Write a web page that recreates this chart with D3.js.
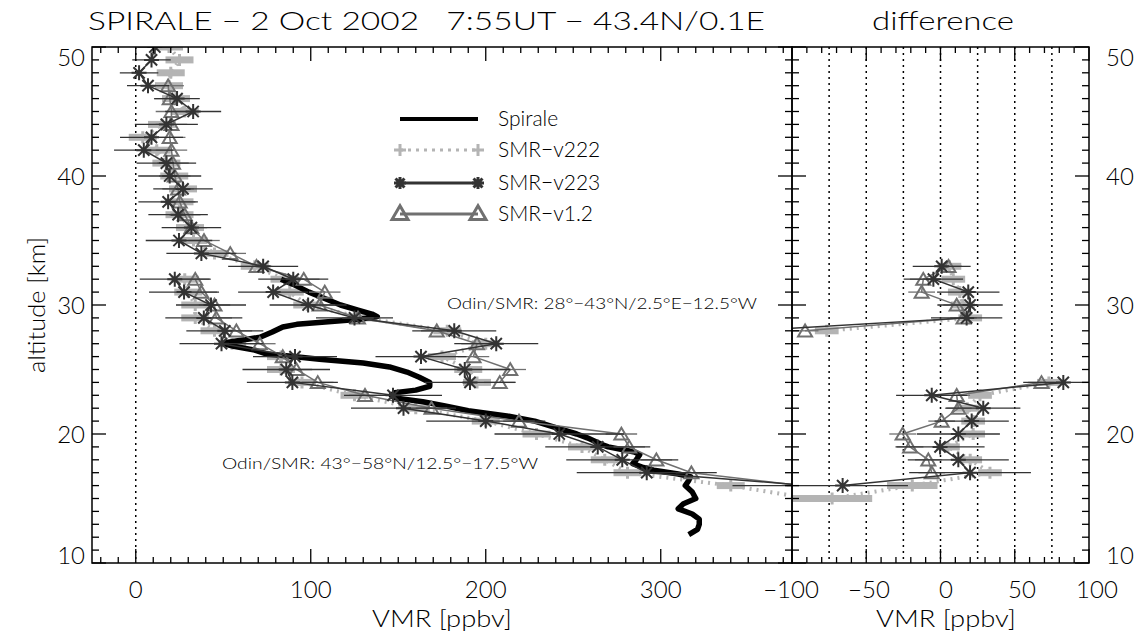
<!DOCTYPE html>
<html><head><meta charset="utf-8">
<script src="https://cdn.jsdelivr.net/npm/d3@7"></script>
<style>body{margin:0;background:#fff} text{font-family:Lato,"Liberation Sans",Arial,sans-serif;font-weight:300;fill:#000}</style>
</head><body><svg id="c" width="1141" height="636"></svg>
<script>
// ---------------- DATA ----------------
// Spirale profile
const spiraleAlt = [32.0,31.6,31.0,30.5,30.0,29.6,29.3,29.1,28.9,28.7,28.5,28.3,27.9,27.5,27.3,27.1,27.0,26.8,26.5,26.2,26.0,25.8,25.5,25.2,24.8,24.4,24.0,23.7,23.4,23.2,23.0,22.8,22.5,22.2,21.8,21.4,21.0,20.5,20.0,19.7,19.2,19.0,18.6,18.4,18.0,17.7,17.4,17.2,16.9,16.7,16.4,16.0,15.5,15.0,14.6,14.2,13.8,13.4,13.0,12.6,12.2];
const spiraleVmr = [83,90,99,108,117,127,135,138,128,110,92,84,78,71,62,52,50,56,68,75,90,105,130,145,155,162,168,168,160,148,146,148,164,176,190,212,228,240,252,258,266,270,285,288,286,284,290,296,310,317,316,314,318,320,313,310,318,322,322,321,316];

// Odin/SMR 28-43N (upper profile + right branch)
const altB = [50,49,48,47,46,45,44,43,42,41,40,39,38,37,36,35,34,33,32,31,30,29,28,27,26,25,24];
const v223B = [10.9,9,1.9,7,23.6,32.8,17.5,9,4.6,17.5,19.4,27,18.5,24.2,31.8,24.7,37.5,72.8,90,78.5,98.5,125,182,206,163,188,191];
const err223B = [10,11,11,12,13,16,18,18,17,17,18,17,17,17,17,19,20,20,20,20,22,22,24,24,26,26,26];
const v12B = [null,null,null,18.5,19.4,20.4,20.4,19.4,20.4,21.3,22.3,24.2,25.1,28,31.8,39,54,69,96,108,105,127,172,195,193,214,208];
const v222B = [19,25,20,19,23,28,15,4,12,17.5,22,27,25,25,31,33,45,68,85,88,98,130,178,200,175,190,195];

// Odin/SMR 43-58N (left/lower branch)
const altA = [32,31,30,29,28,27,26,25,24,23,22,21,20,19,18,17,16,15];
const v223A = [22.3,27.6,43,38.9,50.9,49,91,86,89.5,147,153,200,242,264,278,292,385,null];
const err223A = [20,20,20,22,22,24,24,25,26,28,30,34,37,30,32,40,44,null];
const v12A = [34,37.5,45,46,57.5,70.9,84,91.8,104,131,169,219,277.5,282,297.5,317.5,381,null];
const v222A = [28,30,34,34,45,55,83,83,95,125,160,200,229,255,268,281,340,385];

// Difference panel
const altD = [33,32,31,30,29,28,27,26,25,24,23,22,21,20,19,18,17,16,15];
const d223 = [0.8,-4.8,18.7,19.9,17.6,-130,null,null,null,82.7,-5.9,28.8,21,12,-0.3,12,19.9,-65.9,null];
const errD223 = [19.5,20,21,22,24,25,null,null,null,27,24,25,25,28,30,34,41,44,null];
const d12 = [5.4,-11.6,-12.7,10.9,15.5,-91.2,null,null,null,68,10.9,12,0.8,-25.5,-20.5,-8.2,-5.9,null,null];
const d222 = [6,8.6,13,15,20,-76.6,null,null,null,73,26.6,18,22,22,5,20,33.3,-19,-73];
const errD222 = [8,8,8,8,8,8,null,null,null,8,8,8,8,8,8,8,8,17,27];

const xTicksL = [0,100,200,300];
const xTicksR = [-100,-50,0,50,100];
const yTicks = [10,20,30,40,50];
const legendLabels = ["Spirale","SMR\u2212v222","SMR\u2212v223","SMR\u2212v1.2"];

// ---------------- SETUP ----------------
const svg = d3.select("#c");
const yTop = 47, yBot = 563;
const xL = d3.scaleLinear([-25,375],[92,792]);
const xR = d3.scaleLinear([-100,100],[792,1089]);
const y = d3.scaleLinear([10,50],[yBot,yTop]);

const C222 = "#b4b4b4", C223 = "#333333", C12 = "#707070";

const defs = svg.append("defs");
defs.append("clipPath").attr("id","clipL").append("rect").attr("x",92).attr("y",yTop).attr("width",700).attr("height",yBot-yTop);
defs.append("clipPath").attr("id","clipR").append("rect").attr("x",792).attr("y",yTop).attr("width",297).attr("height",yBot-yTop);

function starM(g, cx, cy, r, color, w){
  const p = `M${cx},${cy-r}V${cy+r}M${cx-r},${cy}H${cx+r}M${cx-r*0.75},${cy-r*0.75}L${cx+r*0.75},${cy+r*0.75}M${cx-r*0.75},${cy+r*0.75}L${cx+r*0.75},${cy-r*0.75}`;
  g.append("path").attr("d",p).attr("stroke",color).attr("stroke-width",w).attr("fill","none");
}
function triM(g, cx, cy, r, color, w){
  const p = `M${cx-r},${cy+r*0.8}L${cx},${cy-r*0.9}L${cx+r},${cy+r*0.8}Z`;
  g.append("path").attr("d",p).attr("stroke",color).attr("stroke-width",w).attr("fill","none");
}
function plusM(g, cx, cy, r, color, w){
  g.append("path").attr("d",`M${cx-r},${cy}H${cx+r}M${cx},${cy-r}V${cy+r}`).attr("stroke",color).attr("stroke-width",w).attr("fill","none");
}

function drawSeries(g, x, alt, vals, errs, kind){
  const data = alt.map((a,i)=>({a, v:vals[i], e: errs? errs[i]:null}));
  const line = d3.line().defined(d=>d.v!=null).x(d=>x(d.v)).y(d=>y(d.a));
  if(kind==="v222"){
    data.filter(d=>d.v!=null).forEach(d=>{
      const e = d.e!=null ? d.e : 8;
      g.append("line").attr("x1",x(d.v-e)).attr("x2",x(d.v+e)).attr("y1",y(d.a)).attr("y2",y(d.a))
        .attr("stroke",C222).attr("stroke-width",7);
    });
    g.append("path").datum(data).attr("d",line).attr("fill","none").attr("stroke",C222)
      .attr("stroke-width",4).attr("stroke-dasharray","2,5");
    data.filter(d=>d.v!=null).forEach(d=>plusM(g,x(d.v),y(d.a),6,C222,3));
  } else if(kind==="v223"){
    data.filter(d=>d.v!=null && d.e!=null).forEach(d=>{
      g.append("line").attr("x1",x(d.v-d.e)).attr("x2",x(d.v+d.e)).attr("y1",y(d.a)).attr("y2",y(d.a))
        .attr("stroke",C223).attr("stroke-width",1.3);
    });
    g.append("path").datum(data).attr("d",line).attr("fill","none").attr("stroke",C223).attr("stroke-width",1.5);
    data.filter(d=>d.v!=null).forEach(d=>starM(g,x(d.v),y(d.a),7.5,C223,2));
  } else if(kind==="v12"){
    data.filter(d=>d.v!=null).forEach(d=>{
      g.append("line").attr("x1",x(d.v-9)).attr("x2",x(d.v+9)).attr("y1",y(d.a)).attr("y2",y(d.a))
        .attr("stroke",C12).attr("stroke-width",1.3);
    });
    g.append("path").datum(data).attr("d",line).attr("fill","none").attr("stroke",C12).attr("stroke-width",1.5);
    data.filter(d=>d.v!=null).forEach(d=>triM(g,x(d.v),y(d.a),7,C12,2));
  }
}

// ---------------- LEFT PANEL ----------------
const gL = svg.append("g").attr("clip-path","url(#clipL)");
gL.append("line").attr("x1",xL(0)).attr("x2",xL(0)).attr("y1",yTop).attr("y2",yBot)
  .attr("stroke","#000").attr("stroke-width",1.5).attr("stroke-dasharray","2,4");
drawSeries(gL, xL, altB, v222B, null, "v222");
drawSeries(gL, xL, altA, v222A, null, "v222");
const spData = spiraleAlt.map((a,i)=>({a, v:spiraleVmr[i]}));
gL.append("path").datum(spData).attr("d", d3.line().x(d=>xL(d.v)).y(d=>y(d.a)))
  .attr("fill","none").attr("stroke","#000").attr("stroke-width",5.5).attr("stroke-linejoin","round");
drawSeries(gL, xL, altB, v12B, null, "v12");
drawSeries(gL, xL, altA, v12A, null, "v12");
drawSeries(gL, xL, altB, v223B, err223B, "v223");
drawSeries(gL, xL, altA, v223A, err223A, "v223");

// ---------------- RIGHT PANEL ----------------
const gR = svg.append("g").attr("clip-path","url(#clipR)");
[-75,-50,-25,0,25,50,75].forEach(v=>{
  gR.append("line").attr("x1",xR(v)).attr("x2",xR(v)).attr("y1",yTop).attr("y2",yBot)
    .attr("stroke","#000").attr("stroke-width",1.5).attr("stroke-dasharray","2,4");
});
drawSeries(gR, xR, altD, d222, errD222, "v222");
drawSeries(gR, xR, altD, d12, null, "v12");
drawSeries(gR, xR, altD, d223, errD223, "v223");

// ---------------- AXES ----------------
const ax = svg.append("g");
function frame(x0,x1){
  ax.append("rect").attr("x",x0).attr("y",yTop).attr("width",x1-x0).attr("height",yBot-yTop)
    .attr("fill","none").attr("stroke","#000").attr("stroke-width",1.5);
}
frame(92,792); frame(792,1089);

function xTicks(scale, majors, minorStep){
  const [d0,d1] = scale.domain();
  const minors = d3.range(Math.ceil(d0/minorStep)*minorStep, d1+0.001, minorStep);
  minors.forEach(v=>{
    const isMaj = majors.includes(v);
    const xx = scale(v);
    ax.append("line").attr("x1",xx).attr("x2",xx).attr("y1",yBot).attr("y2",yBot-(isMaj?14:6)).attr("stroke","#000").attr("stroke-width",1.3);
    ax.append("line").attr("x1",xx).attr("x2",xx).attr("y1",yTop).attr("y2",yTop+(isMaj?14:6)).attr("stroke","#000").attr("stroke-width",1.3);
  });
}
xTicks(xL, xTicksL, 10);
xTicks(xR, xTicksR, 10);

function yTicksAt(xx, dir){
  d3.range(10,50.001,1).forEach(a=>{
    const isMaj = yTicks.includes(a);
    ax.append("line").attr("x1",xx).attr("x2",xx+dir*(isMaj?14:7)).attr("y1",y(a)).attr("y2",y(a)).attr("stroke","#000").attr("stroke-width",1.3);
  });
}
yTicksAt(92,1); yTicksAt(792,-1); yTicksAt(792,1); yTicksAt(1089,-1);

const fs = 24;
xTicksL.forEach(v=>{
  ax.append("text").attr("x",xL(v)).attr("y",598).attr("text-anchor","middle").attr("font-size",fs).text(v);
});
const rPos = {"-100":791,"-50":869,"0":946,"50":1022,"100":1097};
xTicksR.forEach(v=>{
  ax.append("text").attr("x",rPos[v]).attr("y",598).attr("text-anchor","middle").attr("font-size",fs)
    .text(v<0 ? "\u2212"+Math.abs(v) : v);
});
function yLabelY(a){ return a===50 ? y(a)+10 : a===10 ? y(a)-8 : y(a); }
yTicks.forEach(a=>{
  ax.append("text").attr("x",85).attr("y",yLabelY(a)+8.5).attr("text-anchor","end").attr("font-size",fs).text(a);
  ax.append("text").attr("x",1106).attr("y",yLabelY(a)+8.5).attr("text-anchor","start").attr("font-size",fs).text(a);
});

ax.append("text").attr("x",442).attr("y",627).attr("text-anchor","middle").attr("font-size",fs)
  .attr("textLength",140).attr("lengthAdjust","spacingAndGlyphs").text("VMR [ppbv]");
ax.append("text").attr("x",946).attr("y",627).attr("text-anchor","middle").attr("font-size",fs)
  .attr("textLength",140).attr("lengthAdjust","spacingAndGlyphs").text("VMR [ppbv]");
ax.append("text").attr("transform","translate(45,305) rotate(-90)").attr("text-anchor","middle").attr("font-size",fs)
  .attr("textLength",136).attr("lengthAdjust","spacingAndGlyphs").text("altitude [km]");

svg.append("text").attr("x",88).attr("y",30).attr("font-size",26).attr("textLength",677).attr("lengthAdjust","spacingAndGlyphs")
  .text("SPIRALE \u2212 2 Oct 2002\u00a0\u00a0 7:55UT \u2212 43.4N/0.1E");
svg.append("text").attr("x",872).attr("y",30).attr("font-size",26).attr("textLength",142).attr("lengthAdjust","spacingAndGlyphs")
  .text("difference");

svg.append("text").attr("x",447).attr("y",309).attr("font-size",16).attr("textLength",310).attr("lengthAdjust","spacingAndGlyphs")
  .text("Odin/SMR: 28\u00b0\u221243\u00b0N/2.5\u00b0E\u221212.5\u00b0W");
svg.append("text").attr("x",222).attr("y",469).attr("font-size",16).attr("textLength",316).attr("lengthAdjust","spacingAndGlyphs")
  .text("Odin/SMR: 43\u00b0\u221258\u00b0N/12.5\u00b0\u221217.5\u00b0W");

const lg = svg.append("g");
const ly = [119,150,183,214];
const lx0 = 400, lx1 = 478;
lg.append("line").attr("x1",lx0).attr("x2",lx1).attr("y1",ly[0]).attr("y2",ly[0]).attr("stroke","#000").attr("stroke-width",4);
lg.append("line").attr("x1",lx0).attr("x2",lx1).attr("y1",ly[1]).attr("y2",ly[1]).attr("stroke",C222).attr("stroke-width",3).attr("stroke-dasharray","3,5");
plusM(lg,lx0,ly[1],6,C222,3); plusM(lg,lx1,ly[1],6,C222,3);
lg.append("line").attr("x1",lx0).attr("x2",lx1).attr("y1",ly[2]).attr("y2",ly[2]).attr("stroke",C223).attr("stroke-width",3);
starM(lg,lx0,ly[2],6,C223,3); starM(lg,lx1,ly[2],6,C223,3);
lg.append("line").attr("x1",lx0).attr("x2",lx1).attr("y1",ly[3]).attr("y2",ly[3]).attr("stroke",C12).attr("stroke-width",3);
triM(lg,lx0,ly[3]-1,8,C12,3); triM(lg,lx1,ly[3]-1,8,C12,3);
legendLabels.forEach((t,i)=>{
  lg.append("text").attr("x",498).attr("y",ly[i]+7).attr("font-size",21).text(t);
});
</script></body></html>
